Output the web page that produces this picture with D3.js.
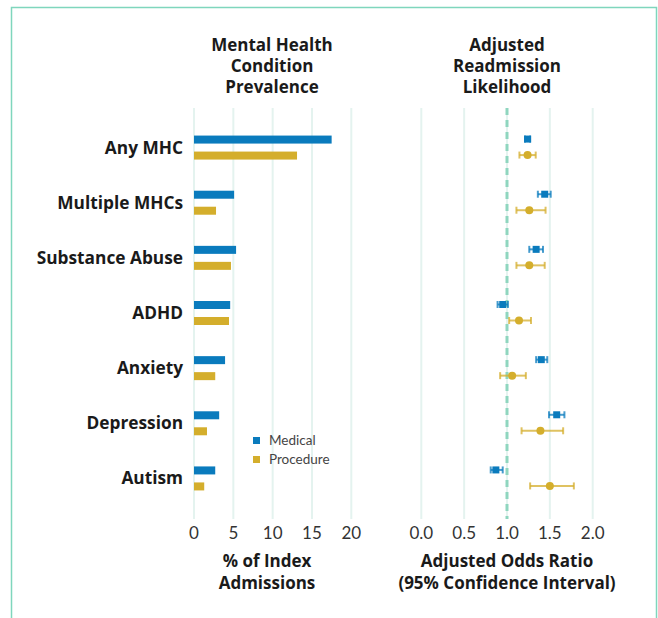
<!DOCTYPE html>
<html>
<head>
<meta charset="utf-8">
<script src="https://cdn.jsdelivr.net/npm/d3@7"></script>
<style>
  body { margin: 0; background: #fff; }
  text { font-family: Lato, "Open Sans", sans-serif; }
  .hd { font-family: "Open Sans", Lato, sans-serif; }
</style>
</head>
<body>
<script>
var width = 658, height = 618;

// data
const categories = ["Any MHC", "Multiple MHCs", "Substance Abuse", "ADHD", "Anxiety", "Depression", "Autism"];
const series = ["Medical", "Procedure"];
const prevMedical = [17.5, 5.1, 5.35, 4.6, 3.95, 3.2, 2.7];
const prevProcedure = [13.1, 2.8, 4.7, 4.45, 2.7, 1.65, 1.3];
const orMedical = [1.24, 1.44, 1.34, 0.95, 1.40, 1.58, 0.87];
const orMedicalLo = [1.21, 1.36, 1.26, 0.89, 1.34, 1.49, 0.81];
const orMedicalHi = [1.27, 1.51, 1.42, 1.01, 1.47, 1.67, 0.95];
const orProcedure = [1.24, 1.26, 1.26, 1.14, 1.06, 1.39, 1.50];
const orProcedureLo = [1.145, 1.11, 1.11, 1.025, 0.92, 1.17, 1.27];
const orProcedureHi = [1.335, 1.45, 1.44, 1.28, 1.22, 1.655, 1.78];
const prevTicks = [0, 5, 10, 15, 20];
const orTicks = [0, 0.5, 1.0, 1.5, 2.0];

var colors = {Medical: "#0a7bbd", Procedure: "#d4ae2c"};

var svg = d3.select("body").append("svg")
  .attr("width", width)
  .attr("height", height);

// frame
svg.append("rect")
  .attr("x", 11.5).attr("y", 7.5)
  .attr("width", 645).attr("height", 640)
  .attr("fill", "none")
  .attr("stroke", "#7fd6bd")
  .attr("stroke-width", 1.5);

var y = d3.scaleBand()
  .domain(categories)
  .range([120, 506])
  .paddingInner(0);

var xPrev = d3.scaleLinear().domain([0, 20]).range([194, 351.3]);
var xOR = d3.scaleLinear().domain([0, 2]).range([421.3, 592.7]);

var gridTop = 108, gridBottom = 519;

// gridlines + tick labels
function grid(scale, ticks, fmt) {
  var g = svg.append("g");
  g.selectAll("line").data(ticks).enter().append("line")
    .attr("x1", d => scale(d)).attr("x2", d => scale(d))
    .attr("y1", gridTop).attr("y2", gridBottom)
    .attr("stroke", "#e4f3ef")
    .attr("stroke-width", 2);
  g.selectAll("text").data(ticks).enter().append("text")
    .attr("x", d => scale(d))
    .attr("y", 539)
    .attr("text-anchor", "middle")
    .attr("font-size", 17)
    .attr("fill", "#333")
    .text(fmt);
}
grid(xPrev, prevTicks, d3.format("d"));
grid(xOR, orTicks, d3.format(".1f"));

// reference line at OR = 1
svg.append("line")
  .attr("x1", xOR(1)).attr("x2", xOR(1))
  .attr("y1", gridTop).attr("y2", gridBottom)
  .attr("stroke", "#8fd6bf")
  .attr("stroke-width", 3)
  .attr("stroke-dasharray", "7,5");

// category labels
svg.append("g").selectAll("text").data(categories).enter().append("text")
  .attr("class", "hd")
  .attr("x", 183)
  .attr("y", d => y(d) + y.bandwidth() / 2 + 6)
  .attr("text-anchor", "end")
  .attr("font-size", 17.3)
  .attr("font-weight", "bold")
  .attr("fill", "#1a1a1a")
  .text(d => d);

// prevalence bars
var barH = 8;
function bars(values, name, offset) {
  svg.append("g").selectAll("rect").data(values).enter().append("rect")
    .attr("x", xPrev(0))
    .attr("y", (d, i) => y(categories[i]) + y.bandwidth() / 2 + offset)
    .attr("width", d => xPrev(d) - xPrev(0))
    .attr("height", barH)
    .attr("fill", colors[name]);
}
bars(prevMedical, "Medical", -12);
bars(prevProcedure, "Procedure", 4);

// odds ratio points with CI
function ci(vals, lo, hi, name, offset, shape) {
  var g = svg.append("g");
  var col = colors[name];
  var rows = vals.map((v, i) => ({v: v, lo: lo[i], hi: hi[i], cy: y(categories[i]) + y.bandwidth() / 2 + offset}));
  g.selectAll(".w").data(rows).enter().append("line")
    .attr("x1", d => xOR(d.lo)).attr("x2", d => xOR(d.hi))
    .attr("y1", d => d.cy).attr("y2", d => d.cy)
    .attr("stroke", col).attr("stroke-opacity", 0.75).attr("stroke-width", 2);
  [["lo"], ["hi"]].forEach(function(k) {
    g.selectAll(".c" + k[0]).data(rows).enter().append("line")
      .attr("x1", d => xOR(d[k[0]])).attr("x2", d => xOR(d[k[0]]))
      .attr("y1", d => d.cy - 3.5).attr("y2", d => d.cy + 3.5)
      .attr("stroke", col).attr("stroke-opacity", 0.75).attr("stroke-width", 2);
  });
  if (shape === "square") {
    g.selectAll("rect").data(rows).enter().append("rect")
      .attr("x", d => xOR(d.v) - 3.5).attr("y", d => d.cy - 3.5)
      .attr("width", 7).attr("height", 7)
      .attr("fill", col);
  } else {
    g.selectAll("circle").data(rows).enter().append("circle")
      .attr("cx", d => xOR(d.v)).attr("cy", d => d.cy)
      .attr("r", 4)
      .attr("fill", col);
  }
}
ci(orMedical, orMedicalLo, orMedicalHi, "Medical", -8.5, "square");
ci(orProcedure, orProcedureLo, orProcedureHi, "Procedure", 7.5, "circle");

// panel titles
function lines(arr, cx, y0, dy) {
  svg.append("g").selectAll("text").data(arr).enter().append("text")
    .attr("class", "hd")
    .attr("x", cx)
    .attr("y", (d, i) => y0 + i * dy)
    .attr("text-anchor", "middle")
    .attr("font-size", 17)
    .attr("font-weight", "bold")
    .attr("fill", "#1a1a1a")
    .text(d => d);
}
lines(["Mental Health", "Condition", "Prevalence"], 272, 51, 21);
lines(["Adjusted", "Readmission", "Likelihood"], 507, 51, 21);
lines(["% of Index", "Admissions"], 267, 567, 22);
lines(["Adjusted Odds Ratio", "(95% Confidence Interval)"], 507, 567, 22);

// legend
var leg = svg.append("g").selectAll("g").data(series).enter().append("g")
  .attr("transform", (d, i) => "translate(253," + (437 + i * 19) + ")");
leg.append("rect")
  .attr("width", 7).attr("height", 7)
  .attr("fill", d => colors[d]);
leg.append("text")
  .attr("x", 16).attr("y", 8)
  .attr("font-size", 13.5)
  .attr("fill", "#444")
  .text(d => d);
</script>
</body>
</html>
